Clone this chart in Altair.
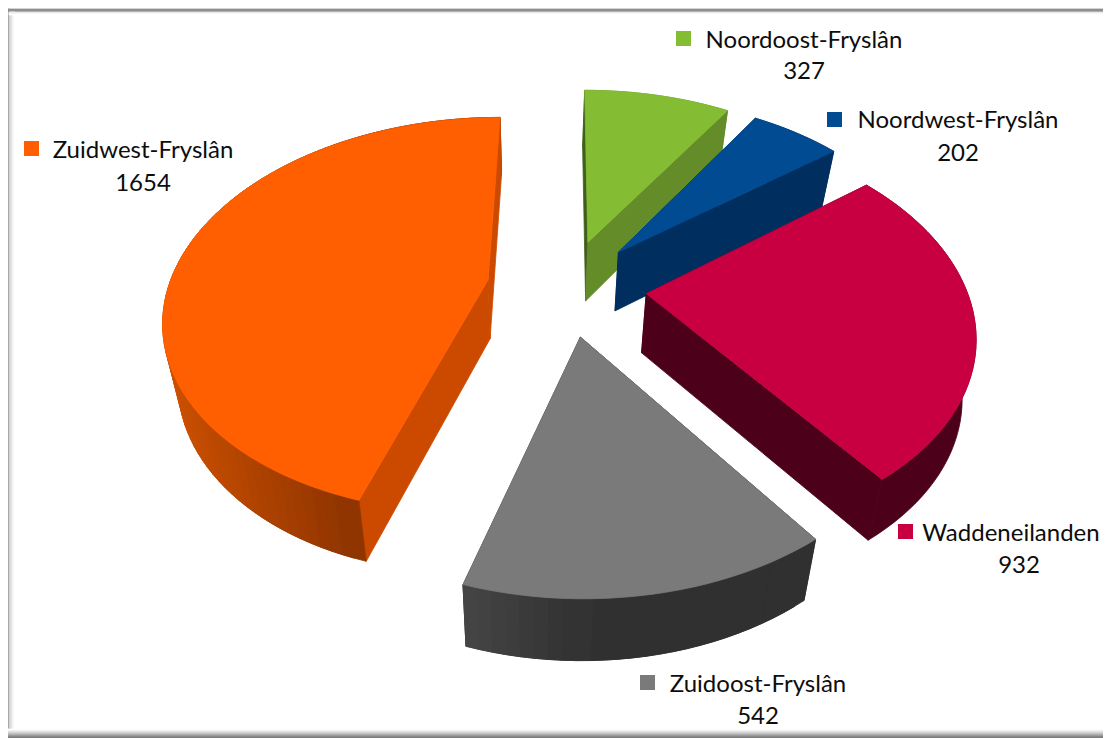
import math
import altair as alt

# ---- chart values (clockwise from the top of the pie)
names = ["Noordoost-Fryslân", "Noordwest-Fryslân", "Waddeneilanden", "Zuidoost-Fryslân", "Zuidwest-Fryslân"]
values = [327, 202, 932, 542, 1654]
top_colors = ["#84bc34", "#004b91", "#c80041", "#7a7a7a", "#ff5f00"]
face_colors = ["#648c28", "#002f5f", "#4d001a", "#303030", "#cc4a00"]
wall_left = ["#648c28", "#002f5f", "#4d001a", "#484848", "#cc5000"]
wall_right = ["#648c28", "#002f5f", "#4d001a", "#303030", "#8c3300"]
wall_x_range = [(500, 800), (500, 800), (600, 900), (461, 600), (170, 366)]
start_face_colors = ["#3f5f1a", "#002f5f", "#4d001a", "#303030", "#cc4a00"]
draw_order = [0, 1, 2, 4, 3]

# ---- label layout, in reference pixels
label_x = [804, 958, 1011, 758, 143]
value_x = [804, 958, 1019, 758, 143]
label_y = [48, 128, 541, 692, 158]
value_y = [79, 161, 573, 724, 191]
square_x = [683.5, 834.5, 905.5, 647.5, 31.5]
square_y = [38.5, 119.5, 531.5, 682.5, 148.5]

# ---- perspective of the exploded pie
CX, CY, A, B, K, EXPLODE = 566.6, 287.0, 194.0, 319.5, 0.18, 0.25
W, H = 1103, 738
OFF = 8


def top_point(theta, mid, radius=1.0):
    u = radius * math.sin(theta) + EXPLODE * math.sin(mid)
    v = -radius * math.cos(theta) - EXPLODE * math.cos(mid)
    w = 1 - K * v
    return (CX + B * u / w, CY + A * v / w)


def bottom_point(p):
    x, y = p
    return (x + max(-14.0, -0.0415 * (x - 535)), y + 57.5 + 0.009 * (y - 118))


def feature(points, fill):
    ring = [[round(x, 2), round(y, 2)] for x, y in points]
    ring.append(ring[0])
    return {
        "type": "Feature",
        "geometry": {"type": "Polygon", "coordinates": [ring]},
        "properties": {"fill": fill},
    }


def mix(c1, c2, t):
    t = max(0.0, min(1.0, t))
    a = [int(c1[i:i + 2], 16) for i in (1, 3, 5)]
    b = [int(c2[i:i + 2], 16) for i in (1, 3, 5)]
    return "#%02x%02x%02x" % tuple(round(p + (q - p) * t) for p, q in zip(a, b))


features = []

# frame
features.append(feature([(6, 9), (W, 9), (W, 12), (6, 12)], "#8f8f8f"))
features.append(feature([(6, 9), (9, 9), (9, H), (6, H)], "#8f8f8f"))
for i in range(6):
    features.append(feature([(9 + i, 12), (10 + i, 12), (10 + i, H), (9 + i, H)], mix("#cfcfcf", "#ffffff", i / 5)))
for i in range(3):
    features.append(feature([(9, 12 + i), (W, 12 + i), (W, 13 + i), (9, 13 + i)], mix("#e4e4e4", "#ffffff", i / 2)))
for i in range(9):
    features.append(feature([(6, 729 + i), (W, 729 + i), (W, 730 + i), (6, 730 + i)], mix("#ffffff", "#7c7c7c", (i / 8) ** 1.3)))

# slices
total = sum(values)
starts, acc = [], 0
for val in values:
    starts.append(acc / total * 2 * math.pi)
    acc += val

for s in draw_order:
    t0 = starts[s]
    t1 = t0 + values[s] / total * 2 * math.pi
    mid = (t0 + t1) / 2
    apex = top_point(0, mid, 0)
    n = max(4, int((t1 - t0) / math.radians(2)))
    arc = [top_point(t0 + (t1 - t0) * i / n, mid) for i in range(n + 1)]
    faces = []
    faces.append(((apex[1] + arc[0][1]) / 2,
                  [apex, arc[0], bottom_point(arc[0]), bottom_point(apex)], start_face_colors[s]))
    faces.append(((apex[1] + arc[-1][1]) / 2,
                  [apex, arc[-1], bottom_point(arc[-1]), bottom_point(apex)], face_colors[s]))
    x0, x1 = wall_x_range[s]
    if wall_left[s] == wall_right[s]:
        lower = [bottom_point(p) for p in reversed(arc)]
        faces.append((max(p[1] for p in arc) if s == 2 else (arc[0][1] + arc[-1][1]) / 2, arc + lower, wall_left[s]))
    else:
        for i in range(n):
            p, q = arc[i], arc[min(i + 2, n)]
            t = ((arc[i][0] + arc[i + 1][0]) / 2 - x0) / (x1 - x0)
            piece = arc[i:min(i + 2, n) + 1]
            faces.append(((p[1] + q[1]) / 2, piece + [bottom_point(c) for c in reversed(piece)],
                          mix(wall_left[s], wall_right[s], t)))
    for _, pts, col in sorted(faces, key=lambda f: f[0]):
        features.append(feature(pts, col))
    features.append(feature([apex] + arc, top_colors[s]))

shapes = (
    alt.Chart(alt.Data(values=features))
    .mark_geoshape(strokeWidth=0.8)
    .encode(
        fill=alt.Fill("properties.fill:N", scale=None),
        stroke=alt.Stroke("properties.fill:N", scale=None),
    )
    .project(type="identity", scale=1, translate=[-OFF, -OFF])
)

x_scale = alt.Scale(domain=[OFF, W], range=[0, W - OFF])
y_scale = alt.Scale(domain=[OFF, H], range=[0, H - OFF])
FONT = "Lato"
FS = 24

rows = [
    {"name": names[i], "value": str(values[i]), "lx": label_x[i], "vx": value_x[i], "ly": label_y[i], "vy": value_y[i],
     "sx": square_x[i], "sy": square_y[i], "col": top_colors[i]}
    for i in range(len(names))
]
base = alt.Chart(alt.Data(values=rows))
name_text = base.mark_text(font=FONT, fontSize=FS, align="center", baseline="alphabetic", color="#0d0d0d").encode(
    x=alt.X("lx:Q", scale=x_scale, axis=None),
    y=alt.Y("ly:Q", scale=y_scale, axis=None),
    text="name:N",
)
value_text = base.mark_text(font=FONT, fontSize=FS, align="center", baseline="alphabetic", color="#0d0d0d").encode(
    x=alt.X("vx:Q", scale=x_scale, axis=None),
    y=alt.Y("vy:Q", scale=y_scale, axis=None),
    text="value:N",
)
squares = base.mark_square(size=225, opacity=1).encode(
    x=alt.X("sx:Q", scale=x_scale, axis=None),
    y=alt.Y("sy:Q", scale=y_scale, axis=None),
    fill=alt.Fill("col:N", scale=None),
)

chart = (
    alt.layer(shapes, squares, name_text, value_text)
    .properties(width=W - OFF, height=H - OFF, padding=0, autosize=alt.AutoSizeParams(type="none"), background="white")
    .configure_view(stroke=None)
)
chart.save("out.html", embed_options={"renderer": "svg", "actions": False})
